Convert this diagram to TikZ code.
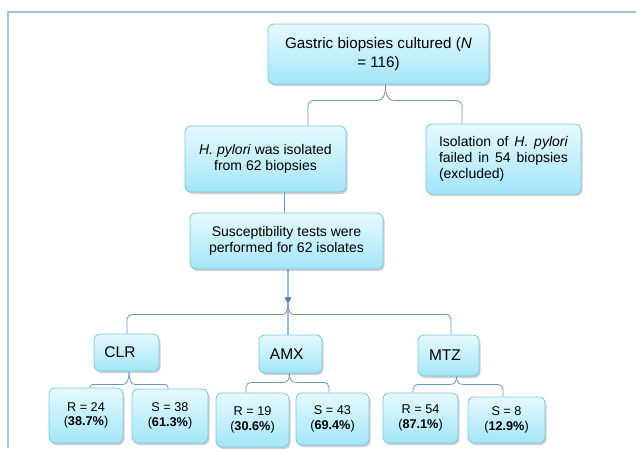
\documentclass[tikz,border=0pt]{standalone}
\usepackage{fontspec}
\setmainfont{Liberation Sans}
\usetikzlibrary{calc,shadows,arrows.meta,backgrounds}
\definecolor{boxtop}{HTML}{E6F9FE}
\definecolor{boxbot}{HTML}{A3E6F8}
\definecolor{boxline}{HTML}{7CC6DE}
\definecolor{connc}{HTML}{6F93C6}
\definecolor{arrline}{HTML}{9DBBE2}
\definecolor{arrowc}{HTML}{4C7BC0}
\definecolor{framec}{HTML}{A7C0E6}
\newcommand{\brk}[6]{%
  % #1 tip, #2 drop, #3 left end, #4 right end, #5 half spread, #6 radius
  \draw[conn] (#1) .. controls ($(#1)+(0,{0.75*#2})$) and ($(#1)+({-0.4*#5},#2)$) .. ($(#1)+(-#5,#2)$) coordinate (tmpl);
  \draw[conn, rounded corners=#6] (tmpl) -- (tmpl -| #3) -- (#3);
  \draw[conn] (#1) .. controls ($(#1)+(0,{0.75*#2})$) and ($(#1)+({0.4*#5},#2)$) .. ($(#1)+(#5,#2)$) coordinate (tmpr);
  \draw[conn, rounded corners=#6] (tmpr) -- (tmpr -| #4) -- (#4);
}
\tikzset{
  box/.style={draw=boxline, line width=0.8pt, rounded corners=6pt,
    top color=boxtop, bottom color=boxbot,
    drop shadow={shadow xshift=1.5pt, shadow yshift=-2pt, opacity=0.3, fill=black!60},
    inner sep=0pt, align=center, font=\fontsize{14}{16}\selectfont},
  bigbox/.style={box, font=\fontsize{15.2}{19}\selectfont},
  drugbox/.style={box, font=\fontsize{15.5}{18}\selectfont},
  resbox/.style={box, font=\fontsize{12.7}{14.5}\selectfont},
  conn/.style={draw=connc, line width=0.8pt},
  arrl/.style={draw=arrline, line width=1.2pt},
}
\begin{document}
\begin{tikzpicture}[x=1pt,y=-1pt]
\useasboundingbox (0,0) rectangle (636,448);
% nodes
\node[bigbox, minimum width=221pt, minimum height=60pt] (top) at (378.5,54)
  {Gastric biopsies cultured (\textit{N}\\ = 116)};
\node[box, minimum width=161pt, minimum height=66pt] (hp) at (265.5,159)
  {\textit{H. pylori} was isolated\\ from 62 biopsies};
\node[box, minimum width=155pt, minimum height=70pt, align=left] (iso) at (503.5,159)
  {\makebox[129pt][s]{Isolation of \textit{H. pylori}}\\ \makebox[129pt][s]{failed in 54 biopsies}\\ (excluded)};
\node[box, minimum width=193pt, minimum height=56pt] (sus) at (286.5,241)
  {Susceptibility tests were\\ performed for 62 isolates};
\node[drugbox, minimum width=65pt, minimum height=37pt] (clr) at (126.5,352.5) {CLR\hspace*{13pt}};
\node[drugbox, minimum width=63pt, minimum height=38pt] (amx) at (290.5,354) {AMX\hspace*{7.5pt}};
\node[drugbox, minimum width=61pt, minimum height=41pt] (mtz) at (448.5,355.5) {MTZ\hspace*{7pt}};
\node[resbox, minimum width=74pt, minimum height=55pt] (r24) at (86,415.5) {R = 24\\ (\textbf{38.7\%})};
\node[resbox, minimum width=76pt, minimum height=54pt] (s38) at (170,416) {S = 38\\ (\textbf{61.3\%})};
\node[resbox, minimum width=73pt, minimum height=54pt] (r19) at (252.5,420) {R = 19\\ (\textbf{30.6\%})};
\node[resbox, minimum width=73pt, minimum height=52pt] (s43) at (332.5,419) {S = 43\\ (\textbf{69.4\%})};
\node[resbox, minimum width=75pt, minimum height=50pt] (r54) at (420.5,418) {R = 54\\ (\textbf{87.1\%})};
\node[resbox, minimum width=77pt, minimum height=46pt] (s8) at (506.5,420) {S = 8\\ (\textbf{12.9\%})};
% coordinates
\coordinate (tT) at ([xshift=7pt]top.south);
\coordinate (eHP) at ([xshift=42.5pt]hp.north);
\coordinate (eIS) at ([xshift=-41.5pt]iso.north);
\coordinate (ar) at ([xshift=1.5pt,yshift=-34pt]sus.south);
\coordinate (eCL) at ([xshift=0.5pt]clr.north);
\coordinate (eMT) at ([xshift=2.5pt]mtz.north);
\coordinate (tCL) at ([xshift=2.5pt]clr.south);
\coordinate (eR24) at ([xshift=4pt]r24.north);
\coordinate (eS38) at ([xshift=-2pt]s38.north);
\coordinate (tAM) at ([xshift=-1pt]amx.south);
\coordinate (eR19) at ([xshift=-6.5pt]r19.north);
\coordinate (eS43) at ([xshift=-3.5pt]s43.north);
\coordinate (tMT) at ([xshift=8pt]mtz.south);
\coordinate (eR54) at ([xshift=-7.5pt]r54.north);
\coordinate (eS8) at ([xshift=-3.5pt]s8.north);
\begin{scope}[on background layer]
  \draw[draw=framec, line width=1.5pt] (8,448) -- (8,12) -- (636,12);
  \brk{tT}{16}{eHP}{eIS}{8}{6pt}
  \draw[conn] ([xshift=18.5pt]hp.south) -- ([xshift=-2.5pt]sus.north);
  \draw[arrl, -{Triangle[length=6pt,width=7pt,color=arrowc,fill=arrowc]}] ([xshift=1.5pt]sus.south) -- (ar);
  \draw[arrl] (ar) -- (ar |- amx.north);
  \brk{ar}{11}{eCL}{eMT}{6}{5pt}
  \brk{tCL}{13}{eR24}{eS38}{6}{3pt}
  \brk{tAM}{9}{eR19}{eS43}{6}{5pt}
  \brk{tMT}{8}{eR54}{eS8}{6}{5pt}
\end{scope}
\end{tikzpicture}
\end{document}
